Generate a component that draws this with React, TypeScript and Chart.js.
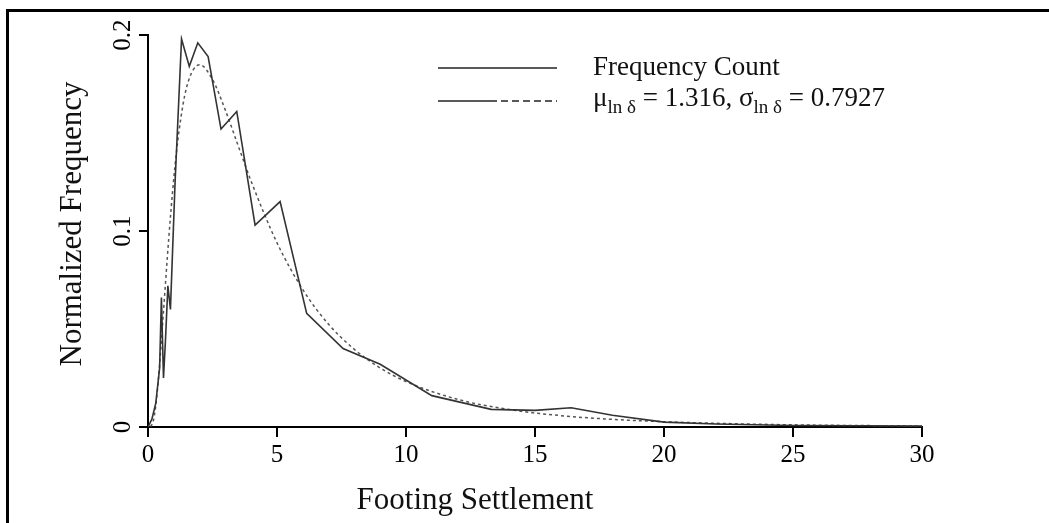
import { useEffect, useRef } from "react";
import { Chart, registerables } from "chart.js";

Chart.register(...registerables);

// Frequency count (solid line)
const countX = [0, 0.15, 0.3, 0.45, 0.52, 0.6, 0.68, 0.77, 0.87, 1.05, 1.3, 1.6, 1.93, 2.33, 2.83, 3.44, 4.15, 5.12, 6.15, 7.56, 9.0, 11.0, 13.3, 15.0, 16.4, 18.0, 20.0, 22.0, 25.0, 30.0];
const countY = [0, 0.004, 0.012, 0.03, 0.066, 0.025, 0.045, 0.072, 0.06, 0.125, 0.198, 0.184, 0.196, 0.189, 0.152, 0.161, 0.103, 0.115, 0.058, 0.04, 0.032, 0.016, 0.009, 0.0085, 0.0098, 0.006, 0.0025, 0.0015, 0.0008, 0.0005];

// Lognormal fit (dashed line)
const fitX = [0.1, 0.2, 0.3, 0.4, 0.5, 0.6, 0.8, 1.0, 1.2, 1.5, 2.0, 2.5, 3.0, 3.5, 4.0, 5.0, 6.0, 7.0, 8.0, 9.0, 10.0, 12.0, 14.0, 16.0, 18.0, 20.0, 22.0, 25.0, 30.0];
const fitY = [0.0002, 0.0028, 0.0107, 0.0239, 0.0405, 0.0589, 0.0955, 0.1269, 0.1508, 0.1735, 0.1848, 0.1773, 0.1616, 0.1433, 0.1253, 0.094, 0.0701, 0.0524, 0.0396, 0.0301, 0.0232, 0.0141, 0.0089, 0.0058, 0.0039, 0.0027, 0.0019, 0.0011, 0.0005];

const xTicks = [0, 5, 10, 15, 20, 25, 30];
const xTickLabels = ["0", "5", "10", "15", "20", "25", "30"];
const yTicks = [0, 0.1, 0.2];
const yTickLabels = ["0", "0.1", "0.2"];

const xTitle = "Footing Settlement";
const yTitle = "Normalized Frequency";
const legendCount = "Frequency Count";
const legendFitParts = ["μ", "ln δ", " = 1.316, σ", "ln δ", " = 0.7927"];

const FONT = '"Liberation Serif", "Times New Roman", serif';

const decorPlugin = {
  id: "decor",
  afterDraw(chart: any) {
    const ctx = chart.ctx as CanvasRenderingContext2D;
    ctx.save();
    // outer frame (top + left)
    ctx.fillStyle = "#000";
    ctx.fillRect(6, 9, 1043, 3);
    ctx.fillRect(6, 9, 3, 514);

    // axis titles
    ctx.fillStyle = "#111";
    ctx.font = `31px ${FONT}`;
    ctx.textAlign = "center";
    ctx.textBaseline = "alphabetic";
    ctx.fillText(xTitle, 475, 509);
    ctx.save();
    ctx.translate(81, 224);
    ctx.rotate(-Math.PI / 2);
    ctx.fillText(yTitle, 0, 0);
    ctx.restore();

    // legend
    ctx.strokeStyle = "#222";
    ctx.lineWidth = 1.5;
    ctx.beginPath();
    ctx.moveTo(438, 68);
    ctx.lineTo(557, 68);
    ctx.stroke();
    ctx.beginPath();
    ctx.moveTo(438, 101);
    ctx.lineTo(490, 101);
    ctx.stroke();
    ctx.setLineDash([7, 4]);
    ctx.beginPath();
    ctx.moveTo(490, 101);
    ctx.lineTo(557, 101);
    ctx.stroke();
    ctx.setLineDash([]);

    ctx.textAlign = "left";
    ctx.font = `27px ${FONT}`;
    ctx.fillText(legendCount, 593, 75);
    let x = 593;
    legendFitParts.forEach((p, i) => {
      const sub = i % 2 === 1;
      ctx.font = sub ? `19px ${FONT}` : `27px ${FONT}`;
      ctx.fillText(p, x, sub ? 113 : 106);
      x += ctx.measureText(p).width;
    });
    ctx.restore();
  },
};

export default function App() {
  const ref = useRef<HTMLCanvasElement>(null);
  useEffect(() => {
    if (!ref.current) return;
    const chart = new Chart(ref.current, {
      type: "line",
      data: {
        datasets: [
          {
            label: legendCount,
            data: countX.map((x, i) => ({ x, y: countY[i] })),
            borderColor: "#333",
            borderWidth: 1.6,
            pointRadius: 0,
            tension: 0,
          },
          {
            label: "fit",
            data: fitX.map((x, i) => ({ x, y: fitY[i] })),
            borderColor: "#555",
            borderWidth: 1.5,
            borderDash: [3, 3],
            pointRadius: 0,
            cubicInterpolationMode: "monotone",
          },
        ],
      },
      options: {
        animation: false,
        responsive: false,
        devicePixelRatio: 1,
        layout: { padding: { left: 0, top: 35, right: 127, bottom: 0 } },
        plugins: {
          legend: { display: false },
          tooltip: { enabled: false },
        },
        scales: {
          x: {
            type: "linear",
            min: 0,
            max: 30,
            afterBuildTicks: (s: any) => {
              s.ticks = xTicks.map((v) => ({ value: v }));
            },
            afterFit: (s: any) => {
              s.height = 96;
            },
            grid: { display: true, drawOnChartArea: false, drawTicks: true, tickLength: 10, color: "#000", lineWidth: 2 },
            border: { display: true, color: "#000", width: 2 },
            ticks: {
              color: "#000",
              font: { family: FONT, size: 25 },
              padding: 3,
              maxRotation: 0,
              autoSkip: false,
              callback: (_v: any, i: number) => xTickLabels[i],
            },
          },
          y: {
            type: "linear",
            min: 0,
            max: 0.2,
            afterBuildTicks: (s: any) => {
              s.ticks = yTicks.map((v) => ({ value: v }));
            },
            afterFit: (s: any) => {
              s.width = 148;
            },
            grid: { display: true, drawOnChartArea: false, drawTicks: true, tickLength: 9, color: "#000", lineWidth: 2 },
            border: { display: true, color: "#000", width: 2 },
            ticks: {
              color: "#000",
              font: { family: FONT, size: 25 },
              padding: 0,
              minRotation: 90,
              maxRotation: 90,
              crossAlign: "center",
              autoSkip: false,
              callback: (_v: any, i: number) => yTickLabels[i],
            },
          },
        },
      },
      plugins: [decorPlugin],
    } as any);
    return () => chart.destroy();
  }, []);
  return (
    <div style={{ position: "fixed", left: 0, top: 0, width: 1049, height: 523, background: "#fff" }}>
      <canvas ref={ref} width={1049} height={523} style={{ display: "block" }} />
    </div>
  );
}
